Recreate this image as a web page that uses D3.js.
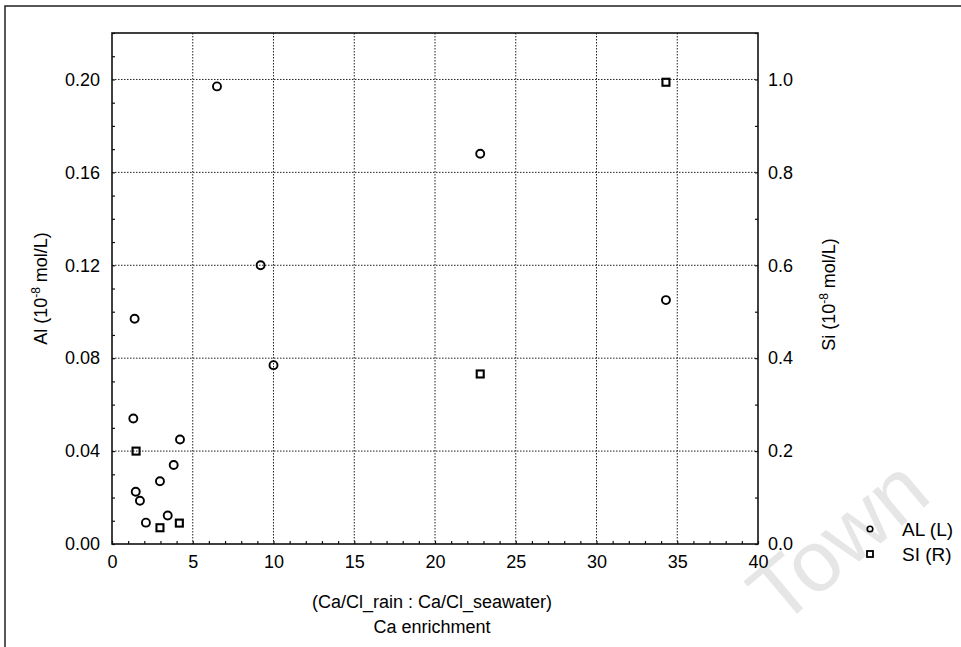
<!DOCTYPE html>
<html>
<head>
<meta charset="utf-8">
<script src="https://cdn.jsdelivr.net/npm/d3@7/dist/d3.min.js"></script>
<style>
  html, body { margin: 0; padding: 0; background: #fff; }
  svg { display: block; font-family: "Liberation Sans", Arial, sans-serif; }
</style>
</head>
<body>
<svg id="chart" width="961" height="647"></svg>
<script>
// Ca enrichment (Ca/Cl_rain : Ca/Cl_seawater) vs Al and Si concentrations
const alEnrichment = [6.5, 9.2, 10.0, 22.8, 34.3, 1.4, 1.32, 4.21, 3.82, 2.97, 1.47, 1.73, 3.45, 2.1];
const alValues     = [0.197, 0.120, 0.077, 0.168, 0.105, 0.097, 0.054, 0.045, 0.034, 0.027, 0.0225, 0.0186, 0.0123, 0.0092];

const siEnrichment = [1.49, 2.97, 4.17, 22.8, 34.3];
const siValues     = [0.20, 0.035, 0.045, 0.366, 0.994];

const xTicks  = [0, 5, 10, 15, 20, 25, 30, 35, 40];
const yLTicks = [0.00, 0.04, 0.08, 0.12, 0.16, 0.20];
const yRTicks = [0.0, 0.2, 0.4, 0.6, 0.8, 1.0];
const legendLabels = ["AL (L)", "SI (R)"];

const svg = d3.select("#chart");
const m = { left: 112, top: 33, right: 758, bottom: 544 };

const x  = d3.scaleLinear().domain([0, 40]).range([m.left, m.right]);
const yL = d3.scaleLinear().domain([0, 0.22]).range([m.bottom, m.top]);
const yR = d3.scaleLinear().domain([0, 1.1]).range([m.bottom, m.top]);

// watermark
svg.append("text")
  .attr("transform", "translate(780,628) rotate(-40)")
  .attr("font-size", 86)
  .attr("fill", "#e6e6e6")
  .text("Town");

// outer frame (top and left edges)
svg.append("path")
  .attr("d", "M5,660 L5,6 L970,6")
  .attr("fill", "none").attr("stroke", "#222").attr("stroke-width", 1.5);

// dotted grid
const grid = svg.append("g").attr("stroke", "#222").attr("stroke-width", 1)
  .attr("stroke-dasharray", "1.5,1.5");
grid.selectAll("line.v").data(xTicks.filter(d => d > 0 && d < 40)).join("line")
  .attr("x1", d => x(d)).attr("x2", d => x(d))
  .attr("y1", m.top).attr("y2", m.bottom);
grid.selectAll("line.h").data(yLTicks.filter(d => d > 0)).join("line")
  .attr("x1", m.left).attr("x2", m.right)
  .attr("y1", d => yL(d)).attr("y2", d => yL(d));

// axes
const fs = 18;
const xAxis = svg.append("g").attr("transform", `translate(0,${m.bottom})`)
  .call(d3.axisBottom(x).tickValues(xTicks).tickSize(0).tickPadding(11).tickFormat(d3.format("d")));
const xMinor = svg.append("g").attr("transform", `translate(0,${m.bottom})`)
  .call(d3.axisTop(x).tickValues(d3.range(0, 41, 1)).tickSize(3).tickFormat(""));
const yAxisL = svg.append("g").attr("transform", `translate(${m.left},0)`)
  .call(d3.axisLeft(yL).tickValues(yLTicks).tickSize(0).tickPadding(12).tickFormat(d3.format(".2f")));
const yMinorL = svg.append("g").attr("transform", `translate(${m.left},0)`)
  .call(d3.axisRight(yL).tickValues(d3.range(0, 23).map(i => i * 0.01)).tickSize(3).tickFormat(""));
const yAxisR = svg.append("g").attr("transform", `translate(${m.right},0)`)
  .call(d3.axisRight(yR).tickValues(yRTicks).tickSize(0).tickPadding(10).tickFormat(d3.format(".1f")));
const yMinorR = svg.append("g").attr("transform", `translate(${m.right},0)`)
  .call(d3.axisLeft(yR).tickValues(d3.range(0, 12).map(i => i * 0.1)).tickSize(3).tickFormat(""));

[xAxis, xMinor, yAxisL, yMinorL, yAxisR, yMinorR].forEach(g => {
  g.select(".domain").remove();
  g.selectAll("text").attr("font-size", fs).attr("fill", "#000")
    .attr("font-family", "'Liberation Sans', Arial, sans-serif");
  g.selectAll("line").attr("stroke", "#111").attr("stroke-width", 1.2);
});

// plot box
svg.append("rect")
  .attr("x", m.left).attr("y", m.top)
  .attr("width", m.right - m.left).attr("height", m.bottom - m.top)
  .attr("fill", "none").attr("stroke", "#111").attr("stroke-width", 1.6);

// axis titles
const yl = svg.append("text")
  .attr("transform", `translate(47,${(m.top + m.bottom) / 2}) rotate(-90)`)
  .attr("text-anchor", "middle").attr("font-size", 18);
yl.append("tspan").text("Al (10");
yl.append("tspan").attr("dy", -7).attr("font-size", 12).text("-8");
yl.append("tspan").attr("dy", 7).text(" mol/L)");

const yr = svg.append("text")
  .attr("transform", `translate(835,${(m.top + m.bottom) / 2 + 6}) rotate(-90)`)
  .attr("text-anchor", "middle").attr("font-size", 18);
yr.append("tspan").text("Si (10");
yr.append("tspan").attr("dy", -7).attr("font-size", 12).text("-8");
yr.append("tspan").attr("dy", 7).text(" mol/L)");

svg.append("text").attr("x", 432).attr("y", 608)
  .attr("text-anchor", "middle").attr("font-size", 18)
  .text("(Ca/Cl_rain : Ca/Cl_seawater)");
svg.append("text").attr("x", 432).attr("y", 633)
  .attr("text-anchor", "middle").attr("font-size", 18)
  .text("Ca enrichment");

// Al markers (left axis)
svg.append("g").selectAll("circle").data(alEnrichment).join("circle")
  .attr("cx", d => x(d)).attr("cy", (d, i) => yL(alValues[i]))
  .attr("r", 4).attr("fill", "none").attr("stroke", "#000").attr("stroke-width", 1.9);

// Si markers (right axis)
const sq = 7;
svg.append("g").selectAll("rect").data(siEnrichment).join("rect")
  .attr("x", d => x(d) - sq / 2).attr("y", (d, i) => yR(siValues[i]) - sq / 2)
  .attr("width", sq).attr("height", sq)
  .attr("fill", "none").attr("stroke", "#000").attr("stroke-width", 2.1);

// legend
const lg = svg.append("g");
lg.append("circle").attr("cx", 870).attr("cy", 529).attr("r", 2.8)
  .attr("fill", "none").attr("stroke", "#000").attr("stroke-width", 1.6);
lg.append("rect").attr("x", 867).attr("y", 551).attr("width", 6).attr("height", 6)
  .attr("fill", "none").attr("stroke", "#000").attr("stroke-width", 1.8);
lg.selectAll("text").data(legendLabels).join("text")
  .attr("x", 902).attr("y", (d, i) => 536 + i * 25)
  .attr("font-size", 19).text(d => d);
</script>
</body>
</html>
